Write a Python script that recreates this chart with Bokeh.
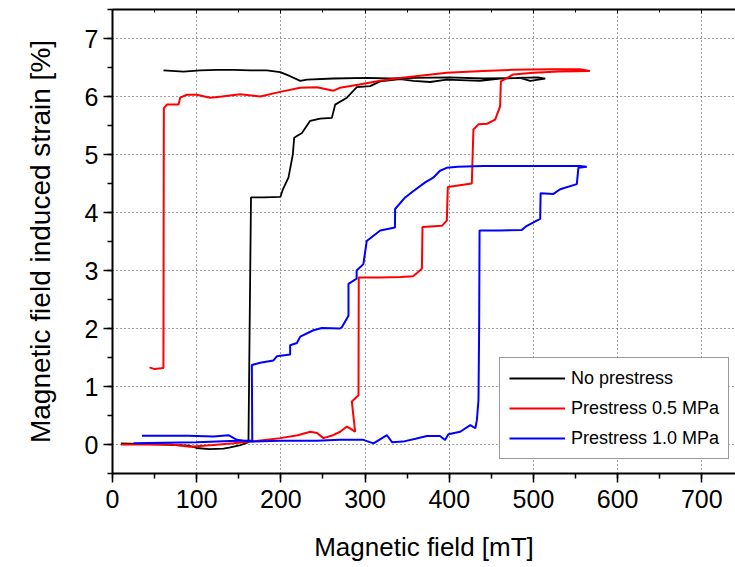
from bokeh.plotting import figure
from bokeh.models import Range1d, LinearAxis, SingleIntervalTicker, Legend, LegendItem
from bokeh.embed import file_html
from bokeh.resources import INLINE

# --- data ---
no_x = [10, 30, 60, 90, 100, 115, 132, 140, 152, 160, 161.5, 164.5, 180, 199.5, 202.4, 209, 214.2,
        215.8, 225, 234.8, 246.7, 260.5, 264.5, 278.4, 290.2, 306, 318, 341.7, 357.5, 377.3, 397,
        436.7, 460.4, 484.2, 496, 514,
        505, 480, 440, 400, 360, 330, 302, 262.5, 230.9, 223, 211, 199.2, 183.4, 163.5, 143.7,
        124, 104.2, 84.3, 60.6]
no_y = [0.02, 0.01, 0.0, -0.02, -0.06, -0.08, -0.07, -0.05, -0.01, 0.03, 0.05, 4.26, 4.26, 4.27,
        4.40, 4.60, 5.0, 5.29, 5.37, 5.58, 5.62, 5.63, 5.86, 5.98, 6.16, 6.18, 6.26, 6.30, 6.27,
        6.25, 6.29, 6.27, 6.31, 6.32, 6.27, 6.31,
        6.33, 6.32, 6.31, 6.33, 6.32, 6.31, 6.32, 6.31, 6.29, 6.27, 6.35, 6.42, 6.45, 6.45, 6.46,
        6.46, 6.45, 6.43, 6.45]

p05_x = [10, 40, 70, 92, 120, 143.7, 163.5, 199.5, 220, 235, 243, 250.6, 262, 270.4, 278.4, 283,
         288.2, 284.3, 292.2, 292.5, 294, 318, 342, 357, 362, 367.5, 368.2, 391.2, 397.1, 398.3,
         426.8, 428.7, 434.7, 445, 454.5, 460.4, 461.3, 476, 500, 530, 567,
         555, 520, 476, 440, 397, 360, 341.7, 318, 290, 270, 262.5, 242.7, 223, 199.2, 175.4,
         151.7, 130, 116, 100, 88.4, 80.4, 78.4, 64.6, 61, 60.5, 50, 44]
p05_y = [0.0, 0.0, 0.0, -0.04, -0.01, 0.02, 0.05, 0.11, 0.16, 0.22, 0.20, 0.11, 0.16, 0.22, 0.31,
         0.27, 0.22, 0.74, 0.85, 2.88, 2.88, 2.88, 2.89, 2.90, 2.96, 3.03, 3.75, 3.77, 3.86, 4.44,
         4.50, 5.43, 5.52, 5.53, 5.60, 5.83, 6.26, 6.38, 6.41, 6.43, 6.44,
         6.47, 6.47, 6.46, 6.44, 6.41, 6.35, 6.32, 6.27, 6.2, 6.15, 6.10, 6.16, 6.15, 6.08, 6.00,
         6.04, 6.0, 5.98, 6.03, 6.03, 5.98, 5.86, 5.86, 5.80, 1.32, 1.30, 1.33]

p10_x = [35, 60, 90, 120, 137.8, 147.7, 163.5, 199, 242.7, 270, 298, 310, 326, 332, 345, 360, 373.4,
         389, 395, 399, 413, 425, 431, 432.8, 434.7, 435.5, 436, 460, 486.2, 492.2, 504, 508, 508.5,
         523.8, 531.7, 551.5, 553.4, 563.4,
         555, 520, 480, 440, 410, 397, 389, 381, 371.4, 357.5, 347.6, 335.7, 335.5, 318, 302, 298,
         290, 290, 280.3, 280.3, 272.4, 270, 248.7, 238.7, 223, 219, 211, 211, 195.2, 191.2,
         175.4, 165.5, 166, 140, 100, 60, 25]
p10_y = [0.15, 0.15, 0.15, 0.14, 0.16, 0.08, 0.05, 0.065, 0.065, 0.08, 0.08, 0.02, 0.16, 0.04, 0.05,
         0.10, 0.146, 0.146, 0.077, 0.175, 0.22, 0.335, 0.28, 0.42, 0.76, 2.0, 3.69, 3.69, 3.70,
         3.77, 3.86, 3.89, 4.33, 4.32, 4.40, 4.49, 4.77, 4.79,
         4.80, 4.80, 4.80, 4.80, 4.79, 4.77, 4.72, 4.60, 4.52, 4.37, 4.26, 4.06, 3.74, 3.69, 3.51,
         3.11, 3.0, 2.86, 2.77, 2.22, 2.02, 2.0, 2.01, 1.97, 1.86, 1.75, 1.71, 1.55, 1.52, 1.45,
         1.41, 1.37, 0.07, 0.06, 0.04, 0.03, 0.02]

labels = ["No prestress", "Prestress 0.5 MPa", "Prestress 1.0 MPa"]
colors = ["#000000", "#ff0000", "#0000ff"]
x_ticks_top = [0, 100, 200, 300, 400, 500, 600, 700]

FONT = "Liberation Sans"

p = figure(width=735, height=567, output_backend="svg", toolbar_location=None,
           x_range=Range1d(0, 740), y_range=Range1d(-0.5, 7.5),
           min_border_left=112, min_border_right=0, min_border_top=9, min_border_bottom=94)
p.outline_line_color = None
p.background_fill_color = "white"

# axes
xa = p.xaxis[0]
xa.ticker = SingleIntervalTicker(interval=100, num_minor_ticks=2)
ya = p.yaxis[0]
ya.ticker = SingleIntervalTicker(interval=1, num_minor_ticks=2)
for ax in (xa, ya):
    ax.axis_line_width = 2
    ax.axis_line_color = "black"
    ax.major_tick_line_width = 1.5
    ax.minor_tick_line_width = 1.5
    ax.major_tick_out = 9
    ax.major_tick_in = 0
    ax.minor_tick_out = 5
    ax.minor_tick_in = 0
    ax.major_label_text_font = FONT
    ax.major_label_text_font_size = "25px"
    ax.major_label_text_color = "black"
    ax.axis_label_text_font = FONT
    ax.axis_label_text_font_style = "normal"
    ax.axis_label_text_color = "black"
xa.axis_label = "Magnetic field [mT]"
xa.axis_label_text_font_size = "26px"
xa.major_label_standoff = 7
xa.axis_label_standoff = 21
ya.axis_label = "Magnetic field induced strain [%]"
ya.axis_label_text_font_size = "28px"
ya.major_label_standoff = 5
ya.axis_label_standoff = 26

top = LinearAxis(ticker=SingleIntervalTicker(interval=100, num_minor_ticks=2))
top.axis_line_width = 2
top.major_tick_out = 0
top.major_tick_in = 4
top.minor_tick_out = 0
top.minor_tick_in = 3
top.major_label_overrides = {t: "" for t in x_ticks_top}
top.major_label_text_font_size = "1px"
top.major_label_standoff = 0
p.add_layout(top, "above")

# grid
for g in (p.xgrid[0], p.ygrid[0]):
    g.grid_line_color = "#444444"
    g.grid_line_dash = "1 3"
    g.grid_line_width = 1
p.xgrid[0].ticker = xa.ticker
p.ygrid[0].ticker = ya.ticker

r0 = p.line(no_x, no_y, line_color=colors[0], line_width=1.8)
r1 = p.line(p05_x, p05_y, line_color=colors[1], line_width=2)
r2 = p.line(p10_x, p10_y, line_color=colors[2], line_width=2)

legend = Legend(items=[LegendItem(label=labels[0], renderers=[r0]),
                       LegendItem(label=labels[1], renderers=[r1]),
                       LegendItem(label=labels[2], renderers=[r2])],
                location=(387, 14))
legend.label_text_font = FONT
legend.label_text_font_size = "18px"
legend.label_text_color = "black"
legend.glyph_width = 56
legend.glyph_height = 22
legend.label_height = 22
legend.spacing = 8
legend.padding = 9
legend.margin = 0
legend.label_standoff = 6
legend.border_line_color = "#333333"
legend.border_line_width = 1
legend.background_fill_alpha = 1
p.add_layout(legend, "center")

open("out.html", "w").write(file_html(p, INLINE))
